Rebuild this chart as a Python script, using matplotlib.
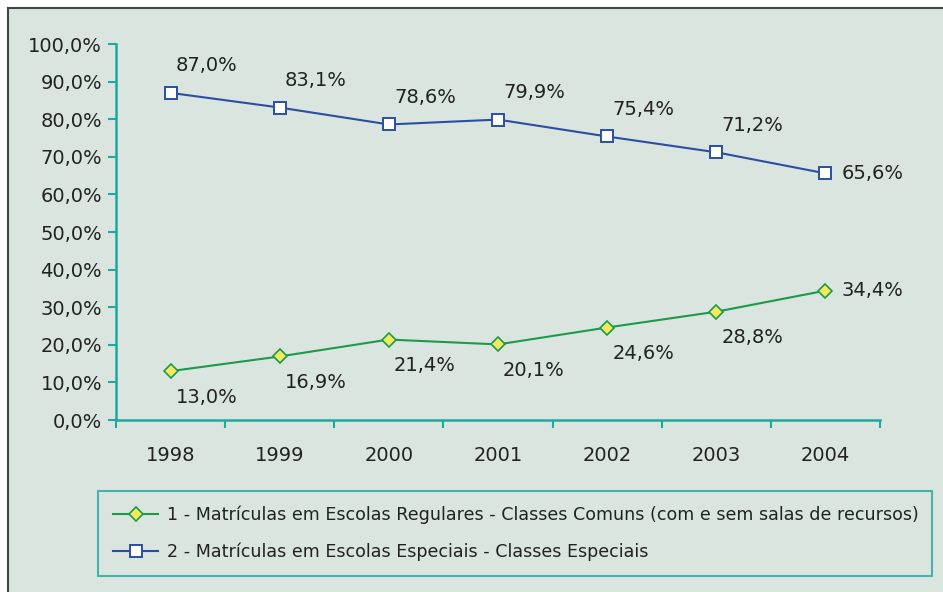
import matplotlib
matplotlib.use('Agg')
import matplotlib.pyplot as plt
from matplotlib.patches import Rectangle

# data
anos = ['1998', '1999', '2000', '2001', '2002', '2003', '2004']
regulares = [13.0, 16.9, 21.4, 20.1, 24.6, 28.8, 34.4]
especiais = [87.0, 83.1, 78.6, 79.9, 75.4, 71.2, 65.6]
nome_reg = '1 - Matrículas em Escolas Regulares - Classes Comuns (com e sem salas de recursos)'
nome_esp = '2 - Matrículas em Escolas Especiais - Classes Especiais'

bg = '#dbe5e0'
teal = '#1fa89d'
verde = '#1a9a4a'
azul = '#2b4ea3'
texto = '#222222'

plt.rcParams['font.family'] = ['DejaVu Sans']

fig = plt.figure(figsize=(9.43, 5.92), dpi=100)
fig.patch.set_facecolor('white')
W, H = 943.0, 592.0
fig.patches.append(Rectangle((8 / W, -0.05), 1.1, (592 - 8) / H + 0.05,
                             transform=fig.transFigure, facecolor=bg,
                             edgecolor='#444444', lw=1.5, zorder=-10))

ax = fig.add_axes([116 / W, (592 - 420) / H, 764 / W, 376 / H])
ax.set_facecolor('none')
x = list(range(len(anos)))

ax.plot(x, especiais, color=azul, lw=1.5, marker='s', markersize=9,
        markerfacecolor='white', markeredgecolor=azul, markeredgewidth=1.4,
        label=nome_esp, clip_on=False, zorder=3)
ax.plot(x, regulares, color=verde, lw=1.5, marker='D', markersize=7,
        markerfacecolor='#f2ea5e', markeredgecolor=verde, markeredgewidth=1.2,
        label=nome_reg, clip_on=False, zorder=3)

def rotulo(v):
    return ('%.1f%%' % v).replace('.', ',')

n = len(anos)
for i, v in enumerate(especiais):
    off = (16, 0) if i == n - 1 else (36, 27)
    ha = 'left' if i == n - 1 else 'center'
    ax.annotate(rotulo(v), (i, v), xytext=off, textcoords='offset pixels',
                ha=ha, va='center', fontsize=14, color=texto)
for i, v in enumerate(regulares):
    off = (16, 0) if i == n - 1 else (36, -26)
    ha = 'left' if i == n - 1 else 'center'
    ax.annotate(rotulo(v), (i, v), xytext=off, textcoords='offset pixels',
                ha=ha, va='center', fontsize=14, color=texto)

ax.set_xlim(-0.5, n - 0.5)
ax.set_ylim(0, 100)
ax.set_yticks(range(0, 101, 10))
ax.set_yticklabels([rotulo(t) for t in range(0, 101, 10)])
ax.set_xticks(x)
ax.set_xticklabels(anos)
ax.set_xticks([i - 0.5 for i in range(n + 1)], minor=True)
ax.tick_params(axis='x', which='major', length=0, pad=19, labelsize=14, labelcolor=texto)
ax.tick_params(axis='x', which='minor', length=6, width=1.5, color=teal, direction='out')
ax.tick_params(axis='y', length=6, width=1.5, color=teal, pad=4, labelsize=14, labelcolor=texto)
for s in ['top', 'right']:
    ax.spines[s].set_visible(False)
for s in ['left', 'bottom']:
    ax.spines[s].set_color(teal)
    ax.spines[s].set_linewidth(1.8)

h, l = ax.get_legend_handles_labels()
leg = fig.legend(h[::-1], l[::-1], loc='center left',
                 bbox_to_anchor=(98 / W, (592 - 575) / H, (932 - 98) / W, 83 / H),
                 mode='expand', fontsize=12.6, frameon=True, fancybox=False,
                 facecolor=bg, edgecolor=teal, handlelength=2.6, handletextpad=0.5,
                 labelspacing=1.05, borderpad=0.85, borderaxespad=0)
leg.get_frame().set_linewidth(1.5)
for t in leg.get_texts():
    t.set_color(texto)

fig.savefig('out.png', dpi=100, facecolor=fig.get_facecolor())
